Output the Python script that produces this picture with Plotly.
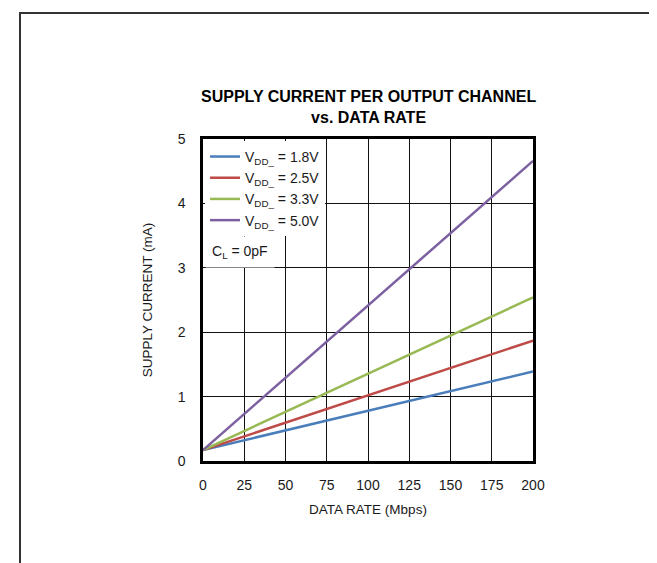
import plotly.graph_objects as go

# data (supply current in mA vs data rate in Mbps)
data_rate = [0, 100, 200]
i_18v = [0.17, 0.78, 1.39]
i_25v = [0.17, 1.02, 1.87]
i_33v = [0.17, 1.36, 2.54]
i_50v = [0.17, 2.42, 4.66]

series_names = ['V<sub>DD_</sub> = 1.8V', 'V<sub>DD_</sub> = 2.5V',
                'V<sub>DD_</sub> = 3.3V', 'V<sub>DD_</sub> = 5.0V']
series_values = [i_18v, i_25v, i_33v, i_50v]
colors = ['#4a7ebb', '#be4b48', '#98b954', '#7d60a0']

x_ticks = [0, 25, 50, 75, 100, 125, 150, 175, 200]
y_ticks = [0, 1, 2, 3, 4, 5]

FONT = 'Liberation Sans, Arial, sans-serif'

fig = go.Figure()
for name, vals, col in zip(series_names, series_values, colors):
    fig.add_trace(go.Scatter(
        x=data_rate, y=vals, name=name, mode='lines',
        line=dict(color=col, width=2.5)
    ))

fig.update_layout(
    width=657, height=563,
    margin=dict(l=195, r=132, t=131, b=110),
    paper_bgcolor='white', plot_bgcolor='white',
    font=dict(family=FONT, size=14, color='#1a1a1a'),
    showlegend=True,
    legend=dict(
        x=0.006, y=0.994, xanchor='left', yanchor='top',
        bgcolor='white', borderwidth=0,
        font=dict(family=FONT, size=14),
        tracegroupgap=0, itemwidth=30,
    ),
)

fig.update_xaxes(
    range=[0, 200], tickvals=x_ticks, ticks='', ticklabelstandoff=9,
    showgrid=True, gridcolor='#111', gridwidth=1,
    showline=True, linecolor='black', linewidth=2.5, mirror=True,
    zeroline=False,
    title=dict(text='DATA RATE (Mbps)', standoff=14, font=dict(size=13.5)),
)
fig.update_yaxes(
    range=[0, 5], tickvals=y_ticks, ticks='', ticklabelstandoff=12,
    showgrid=True, gridcolor='#111', gridwidth=1,
    showline=True, linecolor='black', linewidth=2.5, mirror=True,
    zeroline=False,
    title=dict(text='SUPPLY CURRENT (mA)', standoff=22, font=dict(size=13.5)),
)

# two-line bold title above the plot
fig.add_annotation(
    text='<b>SUPPLY CURRENT PER OUTPUT CHANNEL<br>vs. DATA RATE</b>',
    xref='paper', yref='paper', x=0.5, y=1.1, xanchor='center', yanchor='middle',
    showarrow=False, font=dict(family=FONT, size=16, color='black'),
)

# load capacitance note
fig.add_annotation(
    text='C<sub>L</sub> = 0pF',
    xref='paper', yref='paper', x=0.006, y=0.648, xanchor='left', yanchor='middle',
    showarrow=False, bgcolor='white', borderpad=6,
    font=dict(family=FONT, size=14),
)

# outer frame around the whole figure
fig.add_shape(
    type='rect', xref='paper', yref='paper',
    x0=(12 - 195) / 330, x1=(655 - 195) / 330,
    y0=(453 - 580) / 322, y1=(453 - 5) / 322,
    line=dict(color='#333', width=2), layer='below',
)

fig.write_html('out.html')
